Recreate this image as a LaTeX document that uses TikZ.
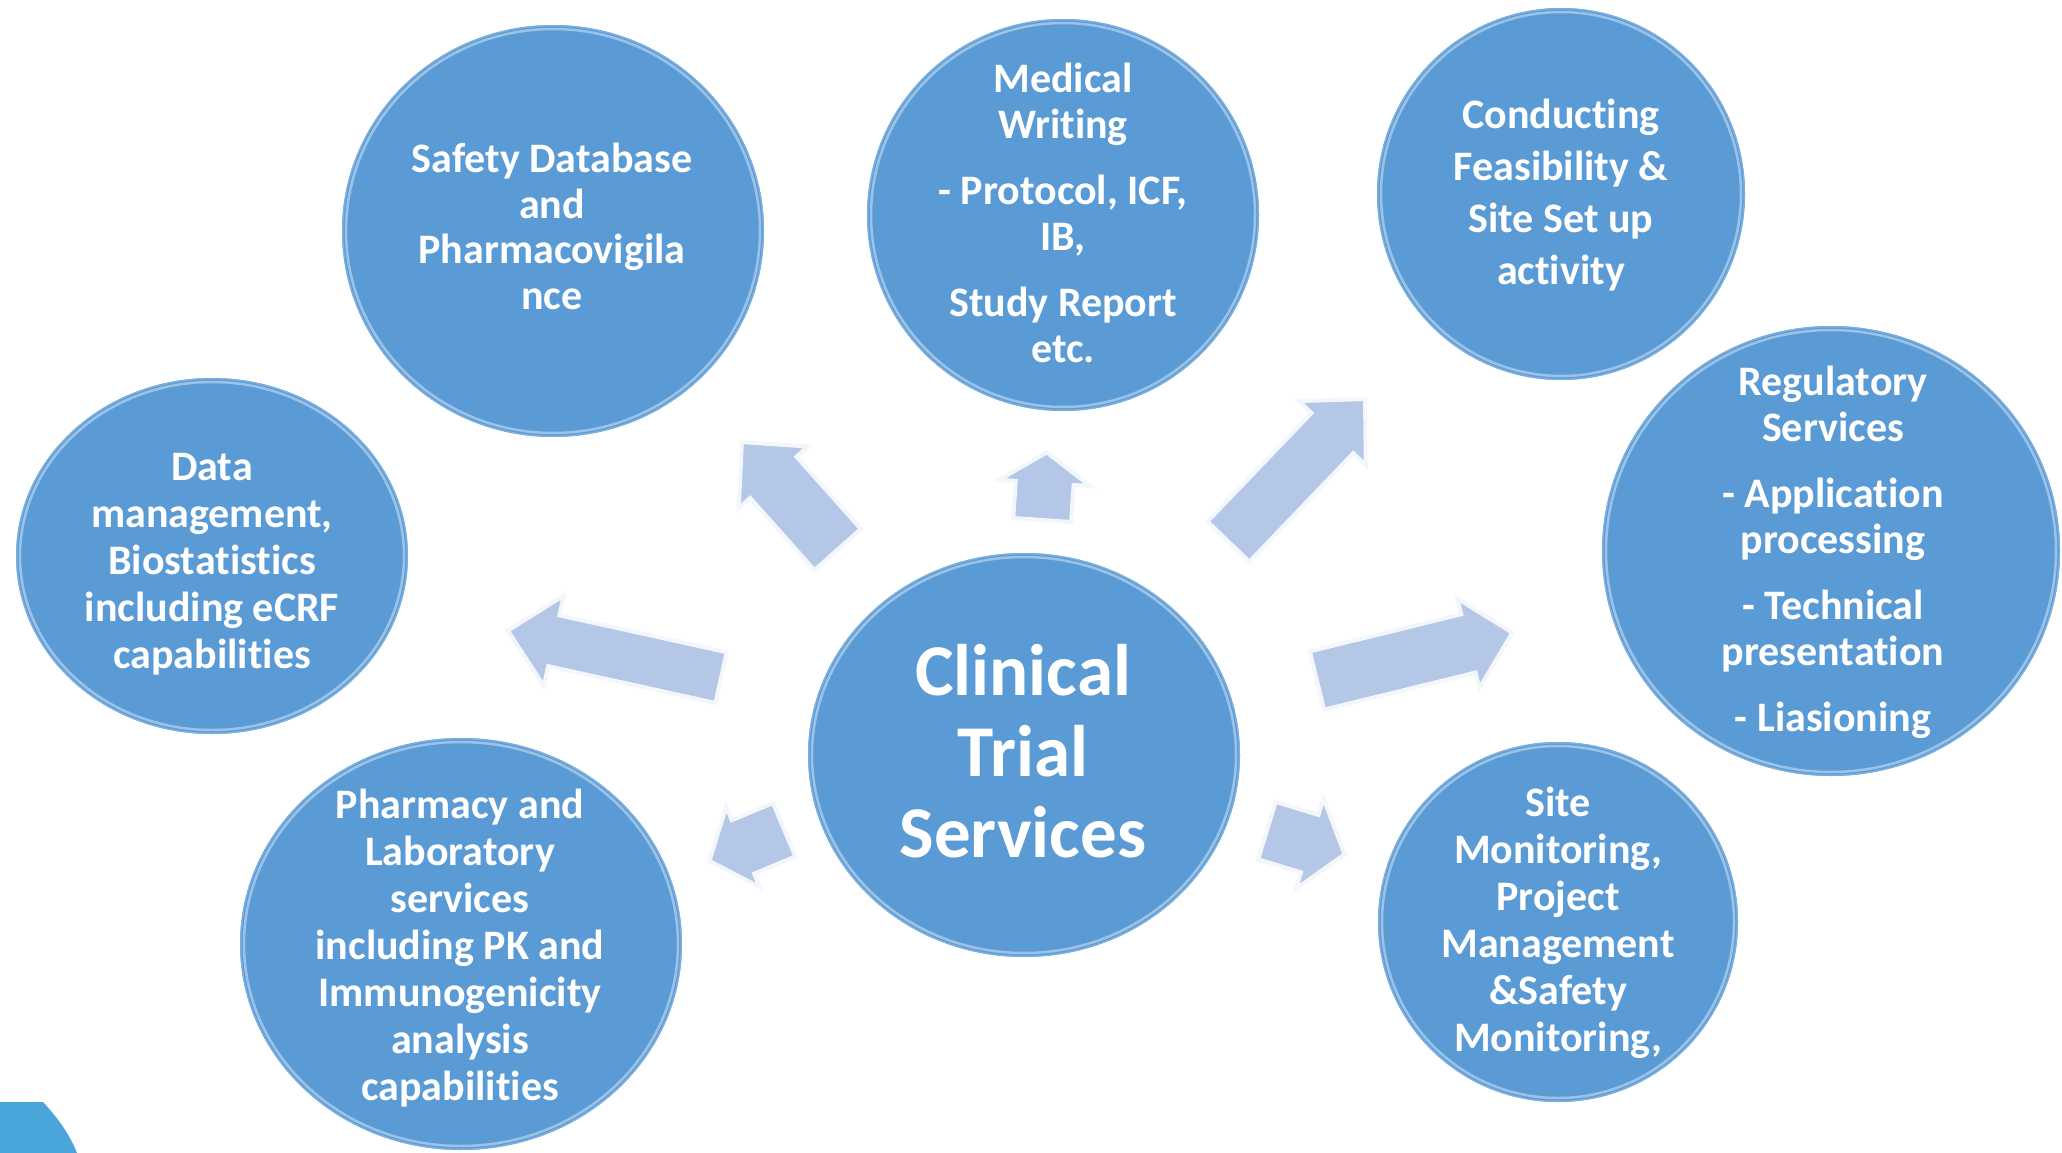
\documentclass[tikz,border=0pt]{standalone}
\usepackage{fontspec}
\setmainfont{Carlito}[Ligatures={NoCommon,NoContextual}]
\usetikzlibrary{calc}
\definecolor{bubC}{HTML}{5B9BD5}
\definecolor{bubEdge}{HTML}{79AEE0}
\definecolor{arrC}{HTML}{B4C7E7}
\definecolor{cornerC}{HTML}{4AA5DA}
\newcommand\ctext[1]{\begin{tabular}[t]{@{}c@{}}#1\end{tabular}}
% bubble: centre name, rx, ry
\newcommand\bubble[3]{%
  \fill[bubC] (#1) ellipse [x radius=#2pt, y radius=#3pt];
  \draw[white, opacity=0.4, line width=2.5pt] (#1) ellipse [x radius=#2pt-4pt, y radius=#3pt-4pt];
  \draw[bubEdge, line width=1.5pt] (#1) ellipse [x radius=#2pt-0.75pt, y radius=#3pt-0.75pt];
}
% block arrow: tail, tip, shaft half width, head half width, head length
\newcommand\blockarrow[5]{%
  \coordinate (#1h) at ($(#2)!#5!(#1)$);
  \filldraw[arr] ($(#1)!#3!90:(#2)$) -- ($(#1h)!#3!90:(#2)$) -- ($(#1h)!#4!90:(#2)$)
    -- (#2) -- ($(#1h)!#4!-90:(#2)$) -- ($(#1h)!#3!-90:(#2)$) -- ($(#1)!#3!-90:(#2)$) -- cycle;
}
\tikzset{
  arr/.style={fill=arrC, draw=white, draw opacity=0.85, line width=8pt, line join=miter},
  txt/.style={text=white, font=\fontsize{42}{46}\selectfont\bfseries, inner sep=0pt, anchor=base},
  txtw/.style={text=white, font=\fontsize{42}{52}\selectfont\bfseries, inner sep=0pt, anchor=base},
  txtm/.style={text=white, font=\fontsize{42}{47}\selectfont\bfseries, inner sep=0pt, anchor=base},
  txtbig/.style={text=white, font=\fontsize{73}{81}\selectfont\bfseries, inner sep=0pt, anchor=base}
}
\begin{document}
\begin{tikzpicture}[x=1pt,y=-1pt]
\useasboundingbox (0,0) rectangle (2062,1153);
\clip (0,0) rectangle (2062,1153);
\fill[white] (0,0) rectangle (2062,1153);

% centres
\coordinate (cSafety) at (553,231);
\coordinate (cMed) at (1063,215);
\coordinate (cCond) at (1561,194);
\coordinate (cReg) at (1831,551);
\coordinate (cSite) at (1558,922);
\coordinate (cCTS) at (1024,755);
\coordinate (cPharm) at (461,944);
\coordinate (cData) at (212,556);

% corner shape
\fill[cornerC] (0,1102) -- (43,1102) .. controls (58,1118) and (70,1135) .. (77,1153) -- (0,1153) -- cycle;

% arrows
\coordinate (aT) at (839,551); \coordinate (aP) at (740,440);
\coordinate (bT) at (1042,522); \coordinate (bP) at (1047,450);
\coordinate (cT) at (1227,543); \coordinate (cP) at (1367,397);
\coordinate (dT) at (723,678); \coordinate (dP) at (505,630);
\coordinate (eT) at (1315,681); \coordinate (eP) at (1515,632);
\coordinate (fT) at (1265,830); \coordinate (fP) at (1347,855);
\coordinate (gT) at (786,829); \coordinate (gP) at (707,862);
\blockarrow{aT}{aP}{33pt}{51pt}{52pt}
\blockarrow{bT}{bP}{31pt}{52pt}{35pt}
\blockarrow{cT}{cP}{31pt}{51pt}{52pt}
\blockarrow{dT}{dP}{28pt}{51pt}{52pt}
\blockarrow{eT}{eP}{32pt}{51pt}{50pt}
\blockarrow{fT}{fP}{32pt}{53pt}{41pt}
\blockarrow{gT}{gP}{31pt}{49pt}{41pt}

% bubbles
\bubble{cSafety}{211}{206}
\bubble{cMed}{196}{196}
\bubble{cCond}{184}{186}
\bubble{cReg}{229}{225}
\bubble{cSite}{180}{180}
\bubble{cCTS}{216}{202}
\bubble{cPharm}{221}{206}
\bubble{cData}{196}{178}

% texts
\node[txt] (tSafety) at (552,172) {\ctext{Safety Database\\and\\Pharmacovigila\\nce}};
\node[txt] (tMed) at (1063,93) {\ctext{Medical\\Writing\\[20pt]- Protocol, ICF,\\IB,\\[20pt]Study Report\\etc.}};
\node[txtw] (tCond) at (1561,129) {\ctext{Conducting\\Feasibility \&\\Site Set up\\activity}};
\node[txt] (tReg) at (1833,395) {\ctext{Regulatory\\Services\\[20pt]- Application\\processing\\[20pt]- Technical\\presentation\\[20pt]- Liasioning}};
\node[txtm] (tSite) at (1558,816) {\ctext{Site\\Monitoring,\\Project\\Management\\\&Safety\\Monitoring,}};
\node[txtbig] (tCTS) at (1023,695) {\ctext{Clinical\\Trial\\Services}};
\node[txtm] (tPharm) at (460,818) {\ctext{Pharmacy and\\Laboratory\\services\\including PK and\\Immunogenicity\\analysis\\capabilities}};
\node[txtm] (tData) at (212,480) {\ctext{Data\\management,\\Biostatistics\\including eCRF\\capabilities}};
\end{tikzpicture}
\end{document}
